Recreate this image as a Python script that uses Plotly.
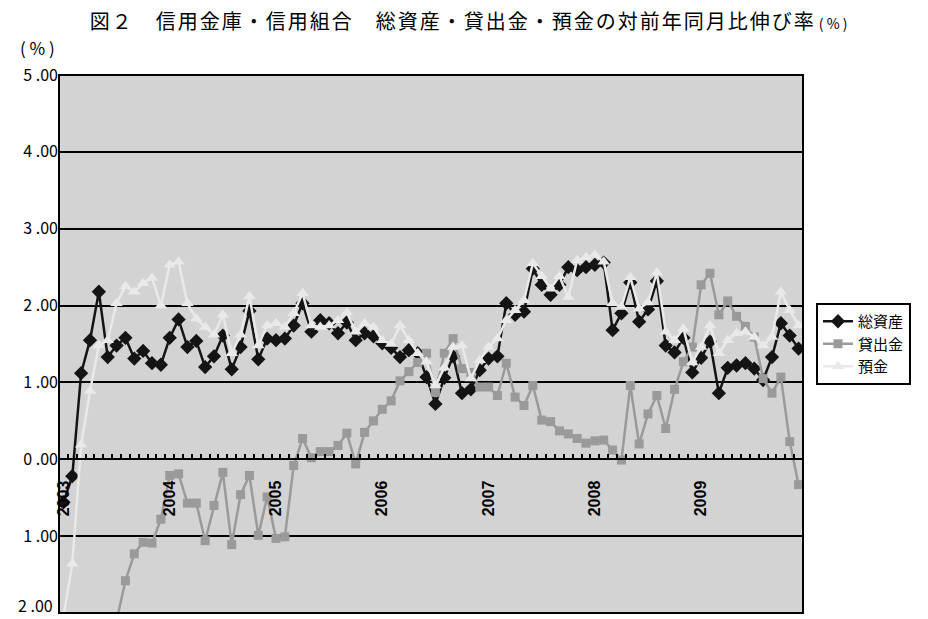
import plotly.graph_objects as go

# Monthly categories, Jan 2003 - Dec 2009 (84 months); year labels on each January
months = list(range(84))
year_tick_pos = [0, 12, 24, 36, 48, 60, 72]
year_labels = ["2003", "2004", "2005", "2006", "2007", "2008", "2009"]

# Year-on-year growth rates (%)
total_assets = [
    -0.56, -0.22, 1.12, 1.55, 2.18, 1.33, 1.48, 1.58, 1.31, 1.41, 1.25, 1.23,
    1.58, 1.82, 1.46, 1.54, 1.20, 1.34, 1.61, 1.17, 1.46, 1.93, 1.30, 1.57,
    1.55, 1.57, 1.74, 2.03, 1.66, 1.81, 1.77, 1.64, 1.78, 1.55, 1.64, 1.60,
    1.51, 1.45, 1.33, 1.42, 1.38, 1.07, 0.72, 1.06, 1.34, 0.86, 0.91, 1.16,
    1.31, 1.34, 2.03, 1.88, 1.92, 2.48, 2.27, 2.14, 2.27, 2.50, 2.46, 2.50,
    2.53, 2.56, 1.68, 1.90, 2.30, 1.79, 1.95, 2.32, 1.48, 1.39, 1.58, 1.13,
    1.32, 1.53, 0.86, 1.19, 1.22, 1.25, 1.18, 1.03, 1.33, 1.77, 1.61, 1.44,
]
loans = [
    None, None, None, None, None, None, -2.10, -1.58, -1.23, -1.08, -1.09, -0.78,
    -0.21, -0.19, -0.57, -0.57, -1.06, -0.60, -0.17, -1.11, -0.46, -0.21, -0.99, -0.49,
    -1.03, -1.01, -0.08, 0.27, 0.02, 0.10, 0.10, 0.18, 0.34, -0.06, 0.35, 0.50,
    0.65, 0.76, 1.02, 1.14, 1.26, 1.38, 0.87, 1.38, 1.57, 1.18, 1.13, 0.94,
    0.94, 0.83, 1.25, 0.81, 0.70, 0.96, 0.51, 0.49, 0.37, 0.33, 0.27, 0.21,
    0.24, 0.25, 0.12, -0.01, 0.96, 0.20, 0.59, 0.83, 0.40, 0.91, 1.27, 1.46,
    2.27, 2.42, 1.88, 2.06, 1.86, 1.73, 1.59, 1.05, 0.86, 1.07, 0.23, -0.33,
]
deposits = [
    -2.05, -1.36, 0.19, 0.89, 1.48, 1.55, 2.03, 2.25, 2.18, 2.29, 2.36, 2.00,
    2.53, 2.57, 2.03, 1.83, 1.72, 1.62, 1.88, 1.38, 1.62, 2.12, 1.48, 1.74,
    1.77, 1.72, 1.90, 2.16, 1.74, 1.72, 1.74, 1.81, 1.91, 1.66, 1.77, 1.72,
    1.55, 1.50, 1.74, 1.55, 1.38, 1.27, 0.96, 1.19, 1.46, 1.48, 1.05, 1.29,
    1.46, 1.57, 1.81, 1.94, 2.07, 2.55, 2.38, 2.22, 2.38, 2.11, 2.59, 2.63,
    2.66, 2.57, 2.03, 1.98, 2.37, 1.96, 2.04, 2.43, 1.66, 1.55, 1.70, 1.26,
    1.46, 1.74, 1.38, 1.55, 1.64, 1.66, 1.59, 1.48, 1.59, 2.18, 1.94, 1.74,
]

y_tick_vals = [5, 4, 3, 2, 1, 0, -1]
y_tick_text = ["5 .00", "4 .00", "3 .00", "2 .00", "1 .00", "0 .00", "1 .00"]
# label of the bottom edge of the value axis (drawn separately, it sits on the figure edge)
y_bottom_val, y_bottom_text = -2, "2 .00"

JP = "Noto Sans CJK JP"

# plot area in pixels: x 59..803, y 75..613
PX_L, PX_R, PX_T, PX_B = 59, 803, 75, 613
PW, PH = PX_R - PX_L, PX_B - PX_T

fig = go.Figure()
fig.add_trace(go.Scatter(
    x=months, y=total_assets, name="総資産", mode="lines+markers",
    line=dict(color="#141414", width=2.5),
    marker=dict(symbol="diamond", size=11, color="#141414"),
))
fig.add_trace(go.Scatter(
    x=months, y=loans, name="貸出金", mode="lines+markers",
    line=dict(color="#9a9a9a", width=2.5),
    marker=dict(symbol="square", size=9, color="#9a9a9a"),
))
fig.add_trace(go.Scatter(
    x=months, y=deposits, name="預金", mode="lines+markers",
    line=dict(color="#e9e9e9", width=2.5),
    marker=dict(symbol="triangle-up", size=11, color="#e9e9e9"),
))

fig.update_layout(
    width=928, height=619,
    margin=dict(l=PX_L, r=928 - PX_R, t=PX_T, b=619 - PX_B),
    paper_bgcolor="white",
    plot_bgcolor="#d3d3d3",
    font=dict(family=JP, color="black"),
    title=dict(
        text="<span style='letter-spacing:2px'>図２　信用金庫・信用組合　"
             "総資産・貸出金・預金の対前年同月比伸び率</span>"
             "<span style='font-size:14px'> ( % )</span>",
        font=dict(family=JP, size=20, color="black"),
        x=0.505, xref="container", xanchor="center",
        y=1 - 22 / 619, yref="container", yanchor="middle",
    ),
    showlegend=True,
    legend=dict(
        x=(816 - PX_L) / PW, xanchor="left",
        y=(PX_B - 303) / PH, yanchor="top",
        bgcolor="white", bordercolor="black", borderwidth=2,
        font=dict(family=JP, size=15, color="black"),
        tracegroupgap=0,
    ),
    xaxis=dict(
        range=[-0.5, 83.5],
        anchor="free", position=2 / 7,
        showgrid=False, zeroline=False,
        showline=True, linecolor="black", linewidth=2,
        tickmode="array", tickvals=year_tick_pos, ticktext=year_labels,
        ticks="", tickangle=-90, ticklabelstandoff=14,
        tickfont=dict(family="Liberation Sans", size=16, color="black", weight="bold"),
        minor=dict(tick0=-0.5, dtick=1, ticks="inside", ticklen=4,
                   tickwidth=2, tickcolor="black", showgrid=False),
    ),
    yaxis=dict(
        range=[-2, 5],
        tickmode="array", tickvals=y_tick_vals, ticktext=y_tick_text,
        showgrid=True, gridcolor="black", gridwidth=1.5,
        zeroline=False, showline=False, ticks="",
        tickfont=dict(family=JP, size=16, color="black"),
    ),
    annotations=[
        dict(
            text="( % )", x=(37 - PX_L) / PW, y=(PX_B - 47) / PH,
            xref="paper", yref="paper", xanchor="center", yanchor="middle",
            showarrow=False, font=dict(family=JP, size=17, color="black"),
        ),
        dict(
            text=y_bottom_text, x=(55 - PX_L) / PW, y=y_bottom_val,
            xref="paper", yref="y", xanchor="right", yanchor="bottom",
            yshift=-6, showarrow=False,
            font=dict(family=JP, size=16, color="black"),
        ),
    ],
    shapes=[dict(
        type="rect", xref="paper", yref="paper", x0=0, x1=1, y0=0, y1=1,
        line=dict(color="black", width=2), layer="above",
    )],
)

fig.write_html("out.html")
